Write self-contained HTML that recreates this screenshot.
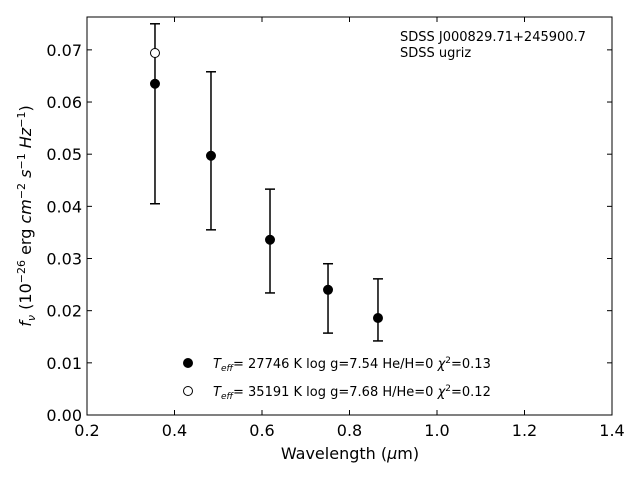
<!DOCTYPE html>
<html><head><meta charset="utf-8"><style>
body{margin:0;background:#fff;}
svg{font-family:"DejaVu Sans","Liberation Sans",sans-serif;}
</style></head><body>
<svg id="chart" width="640" height="480" viewBox="0 0 640 480">
<rect width="640" height="480" fill="#fff"/>
<g id="ticks"></g>
<g id="marks"></g>
<rect x="87" y="17" width="525" height="398" fill="none" stroke="#000" stroke-width="1"/>
<text x="400" y="41" font-size="13">SDSS J000829.71+245900.7</text>
<text x="400" y="57" font-size="13">SDSS ugriz</text>
<text x="350" y="459" font-size="16" text-anchor="middle">Wavelength (<tspan font-style="italic">μ</tspan>m)</text>
<text transform="translate(31,216) rotate(-90)" font-size="16" text-anchor="middle"><tspan font-style="italic">f</tspan><tspan font-style="italic" font-size="11" dy="4">ν</tspan><tspan dy="-4"> (10</tspan><tspan font-size="11" dy="-6">−26</tspan><tspan dy="6"> erg </tspan><tspan font-style="italic">cm</tspan><tspan font-size="11" dy="-6">−2</tspan><tspan dy="6"> </tspan><tspan font-style="italic">s</tspan><tspan font-size="11" dy="-6">−1</tspan><tspan dy="6"> </tspan><tspan font-style="italic">Hz</tspan><tspan font-size="11" dy="-6">−1</tspan><tspan dy="6">)</tspan></text>
<g>
<circle cx="188" cy="363" r="4.5" fill="#000" stroke="#000"/>
<text x="213" y="368" font-size="13"><tspan font-style="italic">T</tspan><tspan font-style="italic" font-size="9" dy="3">eff</tspan><tspan dy="-3">= 27746 K  log g=7.54  He/H=0  </tspan><tspan font-style="italic">χ</tspan><tspan font-size="9" dy="-5">2</tspan><tspan dy="5">=0.13</tspan></text>
<circle cx="188" cy="391" r="4.5" fill="#fff" stroke="#000"/>
<text x="213" y="396" font-size="13"><tspan font-style="italic">T</tspan><tspan font-style="italic" font-size="9" dy="3">eff</tspan><tspan dy="-3">= 35191 K  log g=7.68  H/He=0  </tspan><tspan font-style="italic">χ</tspan><tspan font-size="9" dy="-5">2</tspan><tspan dy="5">=0.12</tspan></text>
</g>
</svg>
<script>
const wavelengths=[0.3554,0.4834,0.6183,0.7509,0.8651];
const fluxes=[0.0635,0.0497,0.0336,0.0240,0.0186];
const errUpper=[0.0750,0.0658,0.0433,0.0290,0.0261];
const errLower=[0.0405,0.0355,0.0234,0.0157,0.0142];
const modelWave=[0.3554];
const modelFlux=[0.0694];
const xTicks=[0.2,0.4,0.6,0.8,1.0,1.2,1.4];
const xTickLabels=["0.2","0.4","0.6","0.8","1.0","1.2","1.4"];
const yTicks=[0,0.01,0.02,0.03,0.04,0.05,0.06,0.07];
const yTickLabels=["0.00","0.01","0.02","0.03","0.04","0.05","0.06","0.07"];
const X0=87,X1=612,Y0=415,Y1=17;
const xs=v=>X0+(v-0.2)/1.2*(X1-X0);
const ys=v=>Y0-v/0.0763*(Y0-Y1);
const NS="http://www.w3.org/2000/svg";
function mk(tag,attrs,parent){const e=document.createElementNS(NS,tag);for(const k in attrs)e.setAttribute(k,attrs[k]);parent.appendChild(e);return e;}
const tg=document.getElementById('ticks'),mg=document.getElementById('marks');
xTicks.forEach((t,i)=>{const x=xs(t);
 let l=mk('line',{x1:x,x2:x,y1:Y0,y2:Y0-5,stroke:'#000'},tg);
 
 
 l=mk('line',{x1:x,x2:x,y1:Y1,y2:Y1+5,stroke:'#000'},tg);
 
 
 const tx=mk('text',{x:x,y:Y0+21,'font-size':16,'text-anchor':'middle'},tg);tx.textContent=xTickLabels[i];
 
 
});
yTicks.forEach((t,i)=>{const y=ys(t);
 let l=mk('line',{x1:X0,x2:X0+5,y1:y,y2:y,stroke:'#000'},tg);
 
 
 l=mk('line',{x1:X1,x2:X1-5,y1:y,y2:y,stroke:'#000'},tg);
 
 
 const tx=mk('text',{x:X0-5,y:y+6,'font-size':16,'text-anchor':'end'},tg);tx.textContent=yTickLabels[i];
 
 
});
wavelengths.forEach((w,i)=>{const x=xs(w);
 const g=mk('g',{},mg);
 
 
 mk('line',{x1:x,x2:x,y1:ys(errUpper[i]),y2:ys(errLower[i]),stroke:'#000','stroke-width':1.5},g);
 mk('line',{x1:x-5,x2:x+5,y1:ys(errUpper[i]),y2:ys(errUpper[i]),stroke:'#000','stroke-width':1.5},g);
 mk('line',{x1:x-5,x2:x+5,y1:ys(errLower[i]),y2:ys(errLower[i]),stroke:'#000','stroke-width':1.5},g);
});
modelWave.forEach((w,i)=>{const c=mk('circle',{cx:xs(w),cy:ys(modelFlux[i]),r:4.5,fill:'#fff',stroke:'#000'},mg);
 
 
});
wavelengths.forEach((w,i)=>{const c=mk('circle',{cx:xs(w),cy:ys(fluxes[i]),r:4.5,fill:'#000',stroke:'#000'},mg);
 
 
});
</script>
</body></html>
